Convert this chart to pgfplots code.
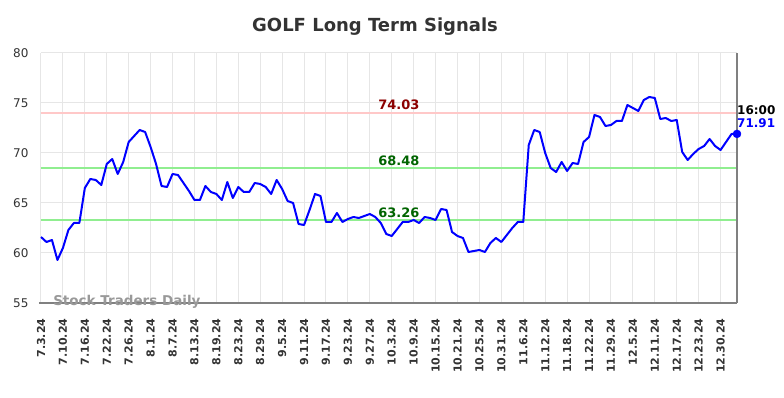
\documentclass[border=0pt]{standalone}
\usepackage{pgfplots}
\pgfplotsset{compat=1.18}
\usepackage{pgfplotstable}
\usepackage{fontspec}
\setmainfont{DejaVu Sans}
\definecolor{gridc}{HTML}{E6E6E6}
\definecolor{redline}{HTML}{FFC8C8}
\definecolor{greenline}{HTML}{90EE90}
\definecolor{darkred}{HTML}{8B0000}
\definecolor{darkgreen}{HTML}{006400}
\definecolor{titlec}{HTML}{333333}
\definecolor{axisc}{HTML}{808080}
\pgfplotstableread{
i v
0 61.6
1 61.1
2 61.3
3 59.3
4 60.5
5 62.3
6 63.0
7 63.0
8 66.5
9 67.4
10 67.3
11 66.8
12 68.9
13 69.4
14 67.9
15 69.1
16 71.1
17 71.7
18 72.3
19 72.1
20 70.6
21 68.9
22 66.7
23 66.6
24 67.9
25 67.8
26 67.0
27 66.2
28 65.3
29 65.3
30 66.7
31 66.1
32 65.9
33 65.3
34 67.1
35 65.5
36 66.6
37 66.1
38 66.1
39 67.0
40 66.9
41 66.6
42 65.9
43 67.3
44 66.4
45 65.2
46 65.0
47 62.9
48 62.8
49 64.3
50 65.9
51 65.7
52 63.1
53 63.1
54 64.0
55 63.1
56 63.4
57 63.6
58 63.5
59 63.7
60 63.9
61 63.6
62 63.0
63 61.9
64 61.7
65 62.4
66 63.1
67 63.1
68 63.3
69 63.0
70 63.6
71 63.5
72 63.3
73 64.4
74 64.3
75 62.1
76 61.7
77 61.5
78 60.1
79 60.2
80 60.3
81 60.1
82 61.0
83 61.5
84 61.1
85 61.8
86 62.5
87 63.1
88 63.1
89 70.8
90 72.3
91 72.1
92 70.0
93 68.5
94 68.1
95 69.1
96 68.2
97 69.0
98 68.9
99 71.1
100 71.6
101 73.8
102 73.6
103 72.7
104 72.8
105 73.2
106 73.2
107 74.8
108 74.5
109 74.2
110 75.3
111 75.6
112 75.5
113 73.4
114 73.5
115 73.2
116 73.3
117 70.1
118 69.3
119 69.9
120 70.4
121 70.7
122 71.4
123 70.7
124 70.3
125 71.1
126 71.9
127 71.91
}\golf
\begin{document}
\begin{tikzpicture}
\path[use as bounding box] (-41pt,-95pt) rectangle (743pt,303pt);
\begin{axis}[
  at={(0pt,0pt)}, anchor=south west,
  scale only axis, width=696pt, height=250pt,
  xmin=0, xmax=127, ymin=55, ymax=80,
  clip=false,
  axis line style={draw=none},
  major tick length=0pt,
  grid=major,
  grid style={gridc, line width=1pt},
  ytick={55,60,65,70,75,80},
  xtick={0,4,...,124},
  xticklabels={7.3.24,7.10.24,7.16.24,7.22.24,7.26.24,8.1.24,8.7.24,8.13.24,8.19.24,8.23.24,8.29.24,9.5.24,9.11.24,9.17.24,9.23.24,9.27.24,10.3.24,10.9.24,10.15.24,10.21.24,10.25.24,10.31.24,11.6.24,11.12.24,11.18.24,11.22.24,11.29.24,12.5.24,12.11.24,12.17.24,12.23.24,12.30.24},
  /pgf/number format/assume math mode=true,
  yticklabel style={font=\fontsize{12}{14}\selectfont, text=titlec, xshift=-9pt},
  xticklabel style={font=\fontsize{11}{13}\selectfont\bfseries, text=titlec, rotate=90, anchor=east, xshift=-12pt},
]
\addplot[redline, line width=2pt, forget plot] coordinates {(0,74.03) (127,74.03)};
\addplot[greenline, line width=2pt, forget plot] coordinates {(0,68.48) (127,68.48)};
\addplot[greenline, line width=2pt, forget plot] coordinates {(0,63.26) (127,63.26)};
\draw[axisc, line width=1.5pt] (rel axis cs:-0.003,0) -- (rel axis cs:1,0);
\draw[axisc, line width=2pt] (rel axis cs:1,0) -- (rel axis cs:1,1);
\addplot[blue, line width=2pt, line join=round] table[x=i, y=v] {\golf};
\addplot[blue, only marks, mark=*, mark size=4pt] coordinates {(127,71.91)};
\node[font=\fontsize{13}{15}\selectfont\bfseries, text=darkred] at (axis cs:65.3,74.03) [yshift=8pt] {74.03};
\node[font=\fontsize{13}{15}\selectfont\bfseries, text=darkgreen] at (axis cs:65.3,68.48) [yshift=7.5pt] {68.48};
\node[font=\fontsize{13}{15}\selectfont\bfseries, text=darkgreen] at (axis cs:65.3,63.26) [yshift=7.5pt] {63.26};
\node[font=\fontsize{12}{14}\selectfont\bfseries, text=black, anchor=west, inner sep=0pt] at (axis cs:127,74.03) [yshift=3pt] {16:00};
\node[font=\fontsize{12}{14}\selectfont\bfseries, text=blue, anchor=west, inner sep=0pt] at (axis cs:127,74.03) [yshift=-10pt] {71.91};
\node[font=\fontsize{13.5}{16}\selectfont\bfseries, text=black!40, anchor=west, inner sep=0pt] at (axis cs:2.2,55) [yshift=1pt] {Stock Traders Daily};
\node[font=\fontsize{18}{21}\selectfont\bfseries, text=titlec] at (rel axis cs:0.48,1) [yshift=26pt] {GOLF Long Term Signals};
\end{axis}
\end{tikzpicture}
\end{document}
